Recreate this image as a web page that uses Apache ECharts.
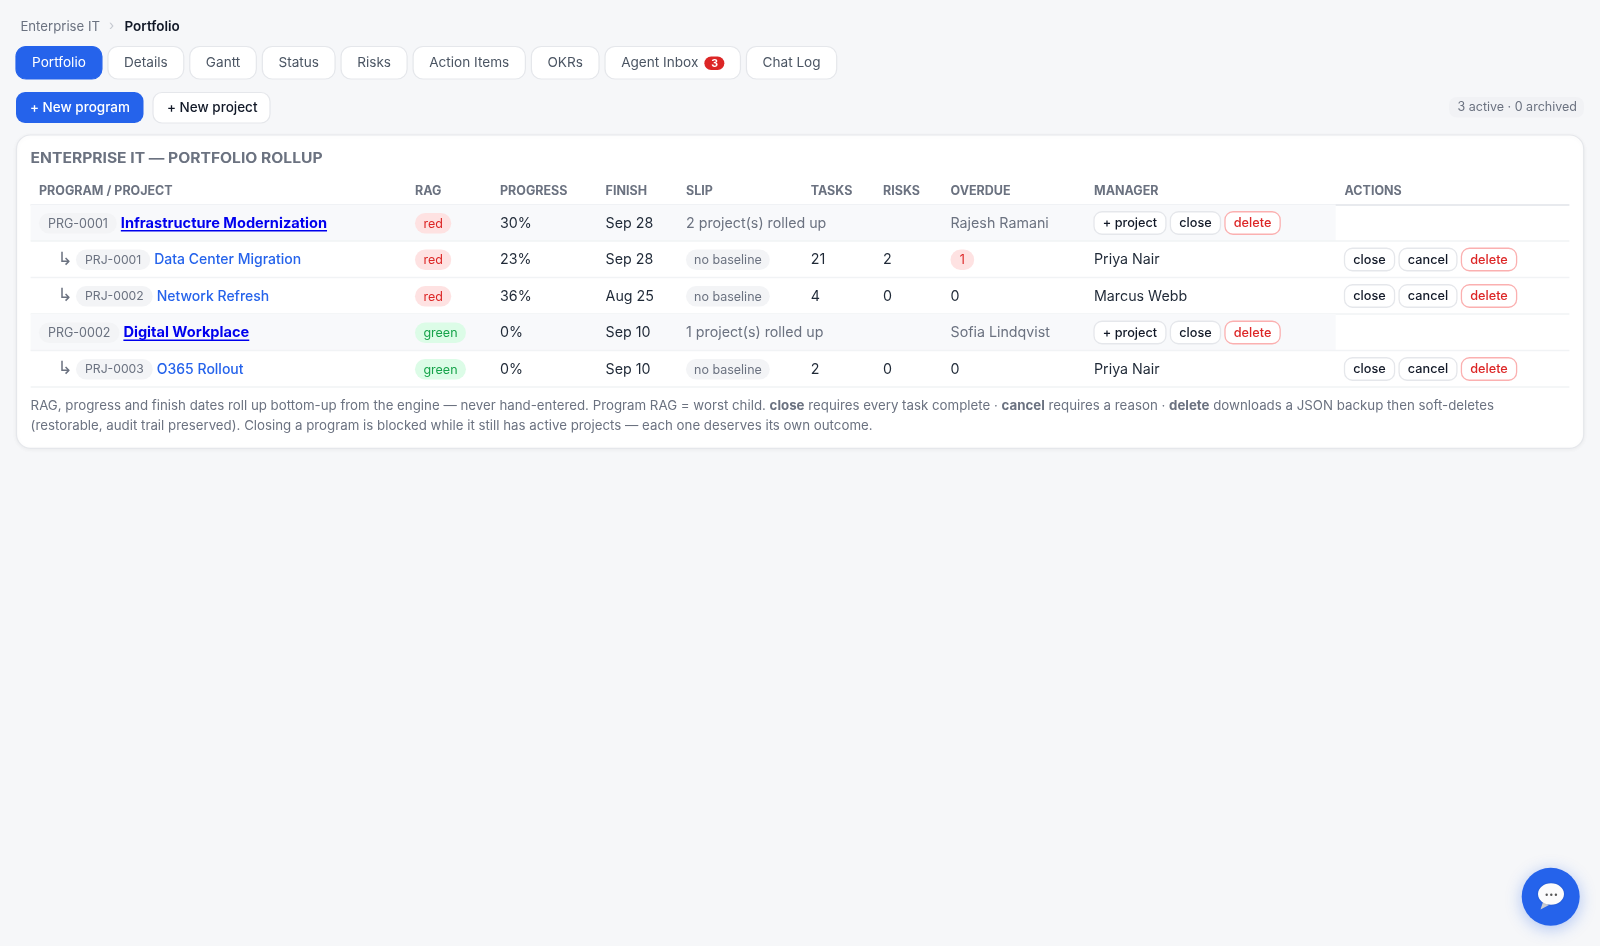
<!DOCTYPE html>
<html>
<head>
<meta charset="utf-8">
<style>
  html, body { margin: 0; padding: 0; background: #f6f7f9; }
  #main { width: 1600px; height: 946px; }
</style>
<script src="https://cdn.jsdelivr.net/npm/echarts@6/dist/echarts.min.js"></script>
</head>
<body>
<div id="main"></div>
<script>
// table content
const tabLabels = ['Portfolio', 'Details', 'Gantt', 'Status', 'Risks', 'Action Items', 'OKRs', 'Agent Inbox', 'Chat Log'];
const inboxCount = '3';
const columnHeaders = ['PROGRAM / PROJECT', 'RAG', 'PROGRESS', 'FINISH', 'SLIP', 'TASKS', 'RISKS', 'OVERDUE', 'MANAGER', 'ACTIONS'];

const rowKinds = ['program', 'project', 'project', 'program', 'project'];
const rowCodes = ['PRG-0001', 'PRJ-0001', 'PRJ-0002', 'PRG-0002', 'PRJ-0003'];
const rowNames = ['Infrastructure Modernization', 'Data Center Migration', 'Network Refresh', 'Digital Workplace', 'O365 Rollout'];
const ragValues = ['red', 'red', 'red', 'green', 'green'];
const progressValues = [30, 23, 36, 0, 0];
const finishDates = ['Sep 28', 'Sep 28', 'Aug 25', 'Sep 10', 'Sep 10'];
const slipTexts = ['2 project(s) rolled up', 'no baseline', 'no baseline', '1 project(s) rolled up', 'no baseline'];
const taskCounts = [null, 21, 4, null, 2];
const riskCounts = [null, 2, 0, null, 0];
const overdueCounts = [null, 1, 0, null, 0];
const managers = ['Rajesh Ramani', 'Priya Nair', 'Marcus Webb', 'Sofia Lindqvist', 'Priya Nair'];
const programActions = ['+ project', 'close', 'delete'];
const projectActions = ['close', 'cancel', 'delete'];

const footnote = [
  'RAG, progress and finish dates roll up bottom-up from the engine — never hand-entered. Program RAG = worst child. {b|close} requires every task complete · {b|cancel} requires a reason · {b|delete} downloads a JSON backup then soft-deletes',
  '(restorable, audit trail preserved). Closing a program is blocked while it still has active projects — each one deserves its own outcome.'
];

// layout, in page pixels
const FONT = 'Inter, "Noto Sans", sans-serif';
const COL = { name: 39, rag: 415, progress: 500, finish: 605.6, slip: 686, tasks: 810.7, risks: 883, overdue: 950.5, manager: 1094, actions: 1344.5 };
const colKeys = Object.keys(COL);
const TABLE_LEFT = 30.6, TABLE_RIGHT = 1569.4, PROGRAM_RIGHT = 1335.7;
const ROW_TOP = 204.5, ROW_BOTTOM = 387;
const CELL_SIZE = 14.25, TAB_SIZE = 13.6;

const INK = '#1f2937', MUTED = '#6b7280', BORDER = '#e5e7eb', BLUE = '#2563eb', RED = '#dc2626';
const ragColors = { red: ['#fee2e2', RED], green: ['#dcfce7', '#16a34a'] };

const measureCtx = document.createElement('canvas').getContext('2d');
function textWidth(text, size, weight) {
  measureCtx.font = (weight || 400) + ' ' + size + 'px ' + FONT;
  return measureCtx.measureText(text).width;
}

function label(text, x, y, size, fill, weight) {
  return {
    type: 'text',
    silent: true,
    style: { text: text, x: x, y: y, fill: fill, fontSize: size, fontWeight: weight || 400, fontFamily: FONT, align: 'left', verticalAlign: 'middle' }
  };
}

// the reference text is tracked out a little, canvas text has no letter spacing
function stretched(text, x, y, size, fill, weight, sx) {
  const el = label(text, 0, y, size, fill, weight);
  el.x = x;
  el.scaleX = sx;
  return el;
}

function box(x, y, w, h, r, fill, stroke, lineWidth) {
  return {
    type: 'rect',
    silent: true,
    shape: { x: x, y: y, width: w, height: h, r: r },
    style: { fill: fill, stroke: stroke || null, lineWidth: lineWidth || 0 }
  };
}

// rounded chip with a label, returns its width
function chip(out, text, x, cy, h, size, pad, bg, fg) {
  const w = textWidth(text, size) + pad * 2;
  out.push(box(x, cy - h / 2, w, h, h / 2, bg));
  out.push(label(text, x + pad, cy + 0.5, size, fg));
  return w;
}

function actionButtons(out, names, x, cy) {
  names.forEach(function (name) {
    const isDelete = name === 'delete';
    const w = textWidth(name, 12.7, 500) + 17.6;
    out.push(box(x, cy - 11, w, 22.5, 8, '#fff', isDelete ? '#fbb0b0' : BORDER, 1.3));
    out.push(label(name, x + 8.8, cy + 0.7, 12.7, isDelete ? RED : '#111827', 500));
    x += w + 4.5;
  });
}

function renderRow(params, api) {
  const i = api.value(1);
  const cy = api.coord([0, i])[1];
  const ty = cy + 0.7;
  const bandH = api.size([0, 1])[1];
  const kids = [];
  const isProgram = rowKinds[i] === 'program';
  const px = function (key) { return api.coord([COL[key], i])[0]; };

  if (isProgram) {
    kids.push(box(TABLE_LEFT, cy - bandH / 2, PROGRAM_RIGHT - TABLE_LEFT, bandH, 0, '#f8f9fb'));
  }
  kids.push({
    type: 'line', silent: true,
    shape: { x1: TABLE_LEFT, y1: cy + bandH / 2, x2: TABLE_RIGHT, y2: cy + bandH / 2 },
    style: { stroke: '#f1f3f5', lineWidth: 1.5 }
  });

  // code chip and name
  let x = px('name');
  if (!isProgram) {
    const arrow = label('↳', x + 18.5, cy + 1, 18, MUTED);
    arrow.style.fontFamily = '"DejaVu Sans"';
    kids.push(arrow);
    x += 37;
  }
  x += chip(kids, rowCodes[i], x, cy + 0.5, 20.5, isProgram ? 12.5 : 12.2, 9, '#f3f4f6', MUTED) + 4;
  if (isProgram) {
    kids.push(label(rowNames[i], x, ty, 14.6, '#0000ee', 700));
    kids.push({
      type: 'line', silent: true,
      shape: { x1: x, y1: cy + 8, x2: x + textWidth(rowNames[i], 14.6, 700), y2: cy + 8 },
      style: { stroke: '#0000ee', lineWidth: 1.3 }
    });
  } else {
    kids.push(label(rowNames[i], x, ty, 14, BLUE, 500));
  }

  chip(kids, ragValues[i], px('rag'), cy + 0.5, 20.5, 12.5, 8.4, ragColors[ragValues[i]][0], ragColors[ragValues[i]][1]);
  kids.push(label(progressValues[i] + '%', px('progress'), ty, CELL_SIZE, INK));
  kids.push(label(finishDates[i], px('finish'), ty, CELL_SIZE, INK));

  if (isProgram) {
    kids.push(label(slipTexts[i], px('slip'), ty, CELL_SIZE, MUTED));
    kids.push(label(managers[i], px('overdue'), ty, CELL_SIZE, MUTED));
    actionButtons(kids, programActions, px('manager'), cy);
  } else {
    chip(kids, slipTexts[i], px('slip'), cy + 0.5, 20.5, 12.5, 8, '#f3f4f6', MUTED);
    kids.push(label(String(taskCounts[i]), px('tasks'), ty, CELL_SIZE, INK));
    kids.push(label(String(riskCounts[i]), px('risks'), ty, CELL_SIZE, INK));
    if (overdueCounts[i] > 0) {
      chip(kids, String(overdueCounts[i]), px('overdue'), cy + 0.5, 20.5, 12.5, 9.3, '#fee2e2', RED);
    } else {
      kids.push(label(String(overdueCounts[i]), px('overdue'), ty, CELL_SIZE, INK));
    }
    kids.push(label(managers[i], px('manager'), ty, CELL_SIZE, INK));
    actionButtons(kids, projectActions, px('actions'), cy);
  }
  return { type: 'group', children: kids };
}

// page furniture around the table
function pageChrome() {
  const g = [];
  g.push(label('Enterprise IT', 20.4, 27, 13.2, MUTED));
  g.push(label('›', 109, 26, 13.5, '#c5c9d0'));
  g.push(label('Portfolio', 124.5, 26.5, 13.5, '#111827', 600));

  let x = 16;
  tabLabels.forEach(function (t, i) {
    const active = i === 0;
    const tw = textWidth(t, TAB_SIZE, 400);
    const extra = t === 'Agent Inbox' ? 26 : 0;
    const w = tw + 32.2 + extra;
    g.push(box(x, 46.5, w, 32.5, 10, active ? BLUE : '#fff', active ? BLUE : BORDER, 1.2));
    g.push(label(t, x + 16.1, 62.5, TAB_SIZE, active ? '#fff' : '#4b5563'));
    if (extra) {
      g.push(box(x + 16.1 + tw + 6, 56.5, 20, 13.5, 6.75, RED));
      g.push(label(inboxCount, x + 16.1 + tw + 13, 63.5, 10.5, '#fff', 700));
    }
    x += w + 6;
  });

  g.push(box(16, 92, 127.5, 31, 9, BLUE));
  g.push(label('+ New program', 30, 107.5, 13.5, '#fff', 500));
  g.push(box(153, 92.5, 117, 30.5, 9, '#fff', BORDER, 1.2));
  g.push(label('+ New project', 167, 107.5, 13.5, '#111827', 500));

  g.push(box(1449, 97, 135, 20.5, 8, '#f1f2f5'));
  g.push(label('3 active · 0 archived', 1457.5, 107, 12.5, MUTED));

  const card = box(16.5, 135, 1567.2, 313.3, 14, '#fff', BORDER, 1.2);
  card.style.shadowBlur = 4;
  card.style.shadowOffsetY = 1;
  card.style.shadowColor = 'rgba(17,24,39,0.05)';
  g.push(card);

  g.push(stretched('ENTERPRISE IT — PORTFOLIO ROLLUP', TABLE_LEFT, 159.2, 14, MUTED, 700, 1.115));

  columnHeaders.forEach(function (h, i) {
    g.push(label(h, COL[colKeys[i]], 191, 12.5, MUTED, 700));
  });
  g.push({
    type: 'line', silent: true,
    shape: { x1: TABLE_LEFT, y1: 205, x2: TABLE_RIGHT, y2: 205 },
    style: { stroke: '#e8eaee', lineWidth: 1.8 }
  });

  footnote.forEach(function (line, i) {
    const el = stretched(line, TABLE_LEFT, 406.5 + i * 20, 13, MUTED, 400, 1.022);
    el.style.rich = { b: { fontSize: 13, fontWeight: 700, fontFamily: FONT, color: MUTED } };
    g.push(el);
  });

  // chat bubble button
  g.push({
    type: 'circle', silent: true,
    shape: { cx: 1550.7, cy: 896.7, r: 29 },
    style: { fill: BLUE, shadowBlur: 16, shadowOffsetY: 3, shadowColor: 'rgba(37,99,235,0.35)' }
  });
  g.push({
    type: 'polygon', silent: true,
    shape: { points: [[1543, 902], [1549, 905], [1540.5, 909.5]] },
    style: { fill: '#c9ccd2' }
  });
  g.push({
    type: 'ellipse', silent: true,
    shape: { cx: 1551, cy: 894, rx: 13, ry: 10.8 },
    style: { fill: '#fbfbfc', shadowBlur: 2, shadowColor: 'rgba(0,0,0,0.2)' }
  });
  [-4.6, 0, 4.6].forEach(function (d) {
    g.push({ type: 'circle', silent: true, shape: { cx: 1551.3 + d, cy: 894.7, r: 1.2 }, style: { fill: '#555' } });
  });
  return g;
}

const chart = echarts.init(document.getElementById('main'), null, { renderer: 'canvas' });

chart.setOption({
  animation: false,
  backgroundColor: '#f6f7f9',
  tooltip: { show: false },
  grid: { left: 0, right: 0, top: ROW_TOP, height: ROW_BOTTOM - ROW_TOP },
  xAxis: { type: 'value', min: 0, max: 1600, show: false },
  yAxis: { type: 'category', inverse: true, show: false, data: rowCodes },
  graphic: { elements: pageChrome() },
  series: [{
    type: 'custom',
    coordinateSystem: 'cartesian2d',
    clip: false,
    silent: true,
    z: 5,
    encode: { x: 0, y: 1 },
    data: rowCodes.map(function (code, i) { return [0, i]; }),
    renderItem: renderRow
  }]
});
</script>
</body>
</html>
